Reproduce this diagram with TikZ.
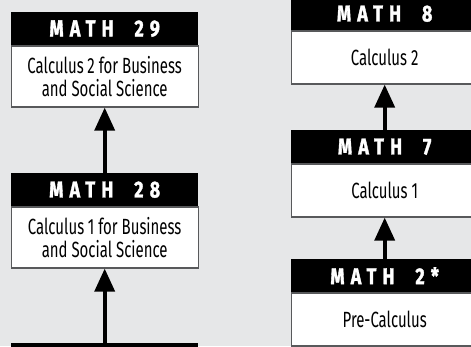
\documentclass[tikz,border=0pt]{standalone}
\usepackage{fontspec}
\setmainfont{Fira Sans}[FakeStretch=0.68]
\newfontfamily\headfont{Fira Sans}[FakeStretch=0.78,LetterSpace=27,BoldFeatures={FakeBold=1.5}]
\usetikzlibrary{arrows.meta,positioning}
\definecolor{panelgray}{HTML}{E6E7E8}
\definecolor{edgegray}{HTML}{58595B}

\begin{document}
\begin{tikzpicture}[x=1pt,y=-1pt,
  head/.style={fill=black,text=white,minimum width=187pt,minimum height=33pt,inner sep=0pt,
    font=\headfont\bfseries\fontsize{23}{23}\selectfont,anchor=north west},
  course/.style={draw=edgegray,line width=1.2pt,fill=white,minimum width=187pt,inner sep=0pt,
    align=center,font=\fontsize{22}{23}\selectfont},
  prereq/.style={line width=3.6pt,-{Triangle[width=20pt,length=23pt]}}]
\useasboundingbox (0,0) rectangle (471,346);
\clip (0,0) rectangle (471,346);
\fill[panelgray] (0,0) rectangle (471,346);
% business calculus
\node[head] (m29h) at (11,12) {MATH\ \ 29};
\node[course,minimum height=61pt,below=0pt of m29h] (m29) {Calculus\,2 for Business\\and Social Science};
\node[head] (m28h) at (11,173) {MATH\ \ 28};
\node[course,minimum height=61pt,below=0pt of m28h] (m28) {Calculus\,1 for Business\\and Social Science};
\node[head] (nexth) at (11,343) {};
% calculus
\node[head] (m8h) at (291,-3) {MATH\ \ 8};
\node[course,minimum height=53pt,below=0pt of m8h] (m8) {Calculus 2};
\node[head] (m7h) at (291,130) {MATH\ \ 7};
\node[course,minimum height=53pt,below=0pt of m7h] (m7) {Calculus 1};
\node[head] (m2h) at (291,259) {MATH\ \ 2*};
\node[course,minimum height=53pt,below=0pt of m2h] (m2) {Pre-Calculus};
\draw[prereq] (m28h.north) -- (m29.south);
\draw[prereq] (nexth.north) -- (m28.south);
\draw[prereq] (m7h.north) -- (m8.south);
\draw[prereq] (m2h.north) -- (m7.south);
\end{tikzpicture}
\end{document}
